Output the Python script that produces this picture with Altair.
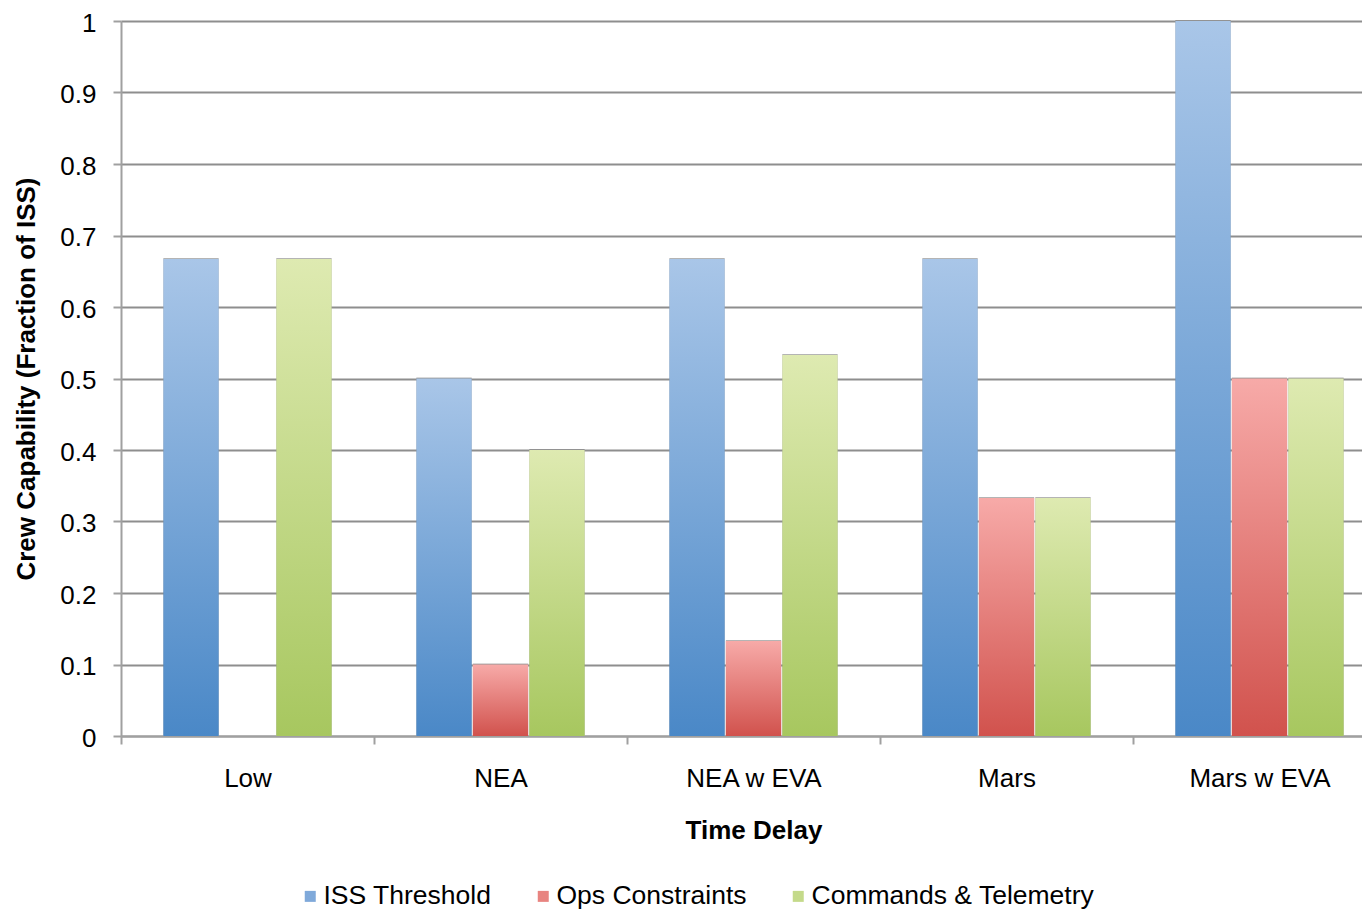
import altair as alt
import pandas as pd

categories = ["Low", "NEA", "NEA w EVA", "Mars", "Mars w EVA"]
series = ["ISS Threshold", "Ops Constraints", "Commands & Telemetry"]
iss_threshold = [0.667, 0.5, 0.667, 0.667, 1.0]
ops_constraints = [0.0, 0.1, 0.133, 0.333, 0.5]
commands_telemetry = [0.667, 0.4, 0.533, 0.333, 0.5]
y_ticks = [0, 0.1, 0.2, 0.3, 0.4, 0.5, 0.6, 0.7, 0.8, 0.9, 1.0]

values = {
    "ISS Threshold": iss_threshold,
    "Ops Constraints": ops_constraints,
    "Commands & Telemetry": commands_telemetry,
}
rows = []
for s in series:
    for c, v in zip(categories, values[s]):
        rows.append({"category": c, "series": s, "value": v})
df = pd.DataFrame(rows)

gradients = {
    "ISS Threshold": ("#A9C6E8", "#4A88C7"),
    "Ops Constraints": ("#F7AAA8", "#D1524D"),
    "Commands & Telemetry": ("#DEEAB1", "#A7C75F"),
}
mid_colors = ["#7FA9DA", "#E88480", "#C4DA8A"]

FONT = "Liberation Sans"

x_enc = alt.X(
    "category:N",
    sort=categories,
    scale=alt.Scale(paddingInner=0, paddingOuter=0),
    axis=alt.Axis(
        title="Time Delay",
        labelAngle=0,
        tickBand="extent",
        tickSize=8,
        labelPadding=21,
        titlePadding=26,
        grid=False,
    ),
)
xo_enc = alt.XOffset(
    "series:N",
    sort=series,
    scale=alt.Scale(domain=series, paddingInner=0.02, paddingOuter=0.75),
)
y_enc = alt.Y(
    "value:Q",
    scale=alt.Scale(domain=[0, 1], nice=False),
    axis=alt.Axis(
        title="Crew Capability (Fraction of ISS)",
        values=y_ticks,
        format="~g",
        tickSize=8,
        labelPadding=17,
        labelOffset=2,
        titlePadding=20,
        grid=True,
    ),
)

base = alt.Chart(df)

shadow = base.mark_bar(color="#444444", opacity=0.4, xOffset=-2.5, yOffset=-1).encode(
    x=x_enc, xOffset=xo_enc, y=y_enc
)

layers = [shadow]
for s in series:
    top, bottom = gradients[s]
    grad = alt.LinearGradient(
        gradient="linear",
        x1=0, y1=0, x2=0, y2=1,
        stops=[
            alt.GradientStop(offset=0, color=top),
            alt.GradientStop(offset=1, color=bottom),
        ],
    )
    layers.append(
        base.transform_filter(alt.datum.series == s)
        .mark_bar(fill=grad)
        .encode(x=x_enc, xOffset=xo_enc, y=y_enc)
    )

legend_layer = base.mark_bar(opacity=0).encode(
    x=x_enc,
    xOffset=xo_enc,
    y=y_enc,
    color=alt.Color(
        "series:N",
        sort=series,
        scale=alt.Scale(domain=series, range=mid_colors),
        legend=alt.Legend(
            title=None,
            orient="none",
            direction="horizontal",
            legendX=176,
            legendY=862,
            symbolType="square",
            symbolSize=121,
            symbolOpacity=1,
            symbolStrokeWidth=0,
            labelFontSize=26.5,
            labelFont=FONT,
            labelColor="#000000",
            labelLimit=0,
            labelOffset=0,
            columnPadding=38,
        ),
    ),
)
layers.append(legend_layer)

chart = (
    alt.layer(*layers)
    .properties(
        width=1265,
        height=715,
        autosize=alt.AutoSizeParams(type="none"),
        padding={"left": 113, "top": 13, "right": -24, "bottom": 175},
    )
    .configure_view(stroke=None)
    .configure_axis(
        labelFont=FONT,
        titleFont=FONT,
        labelFontSize=26,
        titleFontSize=26,
        titleFontWeight="bold",
        labelColor="#000000",
        titleColor="#000000",
        domainColor="#A0A0A0",
        domainWidth=2,
        tickColor="#A0A0A0",
        tickWidth=2,
        gridColor="#8E8E8E",
        gridWidth=2,
    )
)

chart.save("out.html", embed_options={"renderer": "svg", "actions": False})
